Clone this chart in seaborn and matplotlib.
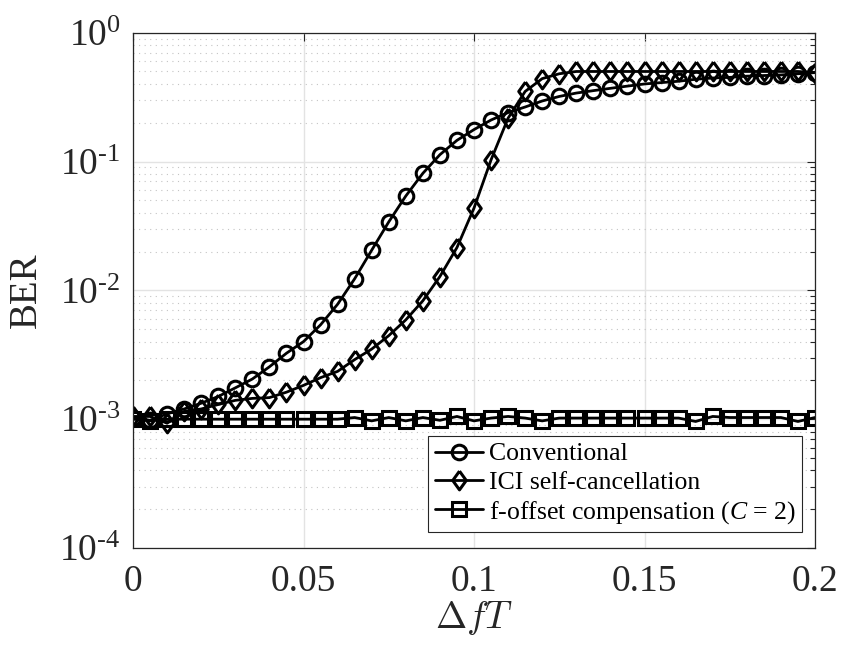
import numpy as np
import pandas as pd
import matplotlib
matplotlib.use("Agg")
import matplotlib.pyplot as plt
import seaborn as sns
from matplotlib.ticker import LogLocator, FixedLocator, FuncFormatter, NullFormatter

# ---- data ----
dfT = [i * 0.005 for i in range(41)]
conventional = [1.03e-3, 0.98e-3, 1.1e-3, 1.2e-3, 1.33e-3, 1.5e-3, 1.75e-3, 2.05e-3, 2.55e-3, 3.25e-3,
                4.0e-3, 5.4e-3, 7.8e-3, 1.23e-2, 2.05e-2, 3.4e-2, 5.4e-2, 8.1e-2, 0.113, 0.146,
                0.177, 0.21, 0.24, 0.265, 0.295, 0.32, 0.34, 0.355, 0.37, 0.385,
                0.40, 0.41, 0.42, 0.435, 0.445, 0.45, 0.46, 0.465, 0.47, 0.48, 0.49]
ici_cancel = [1.05e-3, 1.05e-3, 0.93e-3, 1.15e-3, 1.2e-3, 1.3e-3, 1.4e-3, 1.45e-3, 1.47e-3, 1.62e-3,
              1.83e-3, 2.1e-3, 2.35e-3, 2.9e-3, 3.5e-3, 4.45e-3, 5.9e-3, 8.3e-3, 1.28e-2, 2.15e-2,
              4.35e-2, 0.103, 0.217, 0.35, 0.44, 0.48, 0.50, 0.50, 0.50, 0.50,
              0.50, 0.50, 0.50, 0.50, 0.50, 0.50, 0.50, 0.50, 0.50, 0.50, 0.49]
f_offset = [1.0e-3, 0.97e-3, 1.0e-3, 1.0e-3, 1.0e-3, 1.0e-3, 1.0e-3, 1.0e-3, 1.0e-3, 1.0e-3,
            1.0e-3, 1.0e-3, 1.0e-3, 1.03e-3, 0.97e-3, 1.03e-3, 0.97e-3, 1.03e-3, 0.98e-3, 1.05e-3,
            0.97e-3, 1.02e-3, 1.05e-3, 1.02e-3, 0.97e-3, 1.02e-3, 1.02e-3, 1.02e-3, 1.02e-3, 1.02e-3,
            1.02e-3, 1.02e-3, 1.02e-3, 0.96e-3, 1.05e-3, 1.03e-3, 1.03e-3, 1.03e-3, 1.03e-3, 0.96e-3, 1.03e-3]
labels = ["Conventional", "ICI self-cancellation", r"f-offset compensation ($\mathit{C}$ = 2)"]
xticks = [0, 0.05, 0.1, 0.15, 0.2]
xticklabels = ["0", "0.05", "0.1", "0.15", "0.2"]

sns.set_style("white")
plt.rcParams["font.family"] = ["Liberation Serif", "DejaVu Serif"]
plt.rcParams["mathtext.fontset"] = "custom"
plt.rcParams["mathtext.rm"] = "Liberation Serif"
plt.rcParams["mathtext.it"] = "Liberation Serif:italic"

TXT = "#262626"
fig = plt.figure(figsize=(8.42, 6.46), dpi=100)
ax = fig.add_axes([133 / 842, 1 - 548 / 646, (815 - 133) / 842, (548 - 32.7) / 646])

diamond = [(0, 1), (0.72, 0), (0, -1), (-0.72, 0), (0, 1)]
markers = ["o", diamond, "s"]
msizes = [10.5, 13.5, 9.5]
series = [conventional, ici_cancel, f_offset]
for vals, lab, mk, ms in zip(series, labels, markers, msizes):
    df = pd.DataFrame({"x": dfT, "y": vals})
    sns.lineplot(data=df, x="x", y="y", ax=ax, color="black", linewidth=2.0,
                 marker=mk, markersize=ms, markerfacecolor="none",
                 markeredgecolor="black", markeredgewidth=2.2, label=lab)

ax.set_yscale("log")
ax.set_xlim(0, 0.2)
ax.set_ylim(1e-4, 1)

ax.xaxis.set_major_locator(FixedLocator(xticks))
ax.set_xticklabels(xticklabels)
ax.yaxis.set_major_locator(LogLocator(base=10, numticks=10))
ax.yaxis.set_minor_locator(LogLocator(base=10, subs=np.arange(2, 10), numticks=20))
ax.yaxis.set_minor_formatter(NullFormatter())
ax.yaxis.set_major_formatter(FuncFormatter(
    lambda v, p: r"$\mathregular{10^{%s}}$" % str(int(round(np.log10(v)))).replace("-", "\u2010")))

ax.grid(True, which="major", axis="both", color="#e3e3e3", linestyle="-", linewidth=1.0)
ax.grid(True, which="minor", axis="y", color="#c4c4c4", linestyle=(0, (1, 4)), linewidth=0.8)
ax.set_axisbelow(True)

ax.tick_params(axis="both", which="both", direction="in", top=True, right=True,
               color=TXT, labelsize=27, labelcolor=TXT)
ax.tick_params(which="major", length=6, width=0.8)
ax.tick_params(which="minor", length=3.5, width=0.8)
ax.tick_params(axis="x", pad=12)
ax.tick_params(axis="y", pad=9)
for sp in ax.spines.values():
    sp.set_visible(True)
    sp.set_color(TXT)
    sp.set_linewidth(0.9)

ax.set_ylabel("BER", fontsize=28, color=TXT, labelpad=10)
ax.set_xlabel(r"$\Delta fT$", fontsize=27, color=TXT, labelpad=0, math_fontfamily="cm")

leg = ax.legend(loc="lower right", bbox_to_anchor=(0.981, 0.031), borderaxespad=0,
                fontsize=18.5, frameon=True, fancybox=False, framealpha=1,
                edgecolor=TXT, handlelength=1.9, handletextpad=0.2,
                labelspacing=0.2, borderpad=0.25)
leg.get_frame().set_linewidth(0.8)
for t in leg.get_texts():
    t.set_color("black")

fig.savefig("out.png", dpi=100)
